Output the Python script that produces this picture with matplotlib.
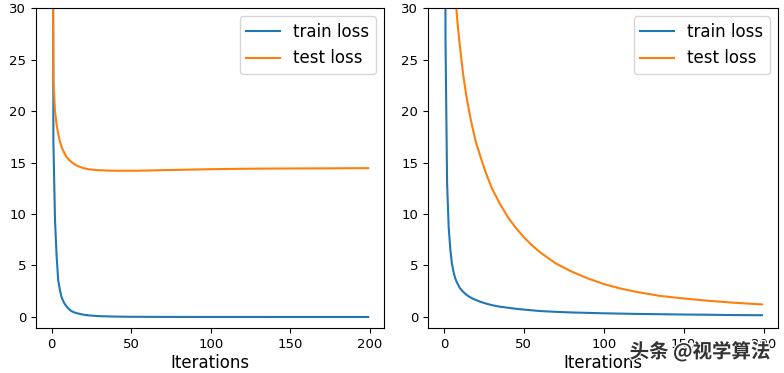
import matplotlib
matplotlib.use("Agg")
import matplotlib.pyplot as plt
import matplotlib.patheffects as pe

# values (sparse iteration grid)
iterations = [0, 1, 2, 3, 4, 5, 6, 7, 8, 9, 10, 12, 14, 16, 18, 20, 23, 26,
              30, 35, 40, 45, 50, 55, 60, 70, 80, 90, 100, 110, 120, 135,
              150, 165, 180, 199]

# left panel: train loss drops to ~0, test loss plateaus ~14.4
left_train = [100, 17, 9.5, 6.0, 3.6, 2.7, 2.0, 1.6, 1.3, 1.08, 0.9, 0.6,
              0.45, 0.36, 0.29, 0.22, 0.16, 0.12, 0.08, 0.06, 0.04, 0.03,
              0.02, 0.018, 0.015, 0.01, 0.008, 0.007, 0.005, 0.004, 0.004,
              0.003, 0.003, 0.002, 0.002, 0.002]
left_test = [60, 23, 20, 18.7, 17.8, 17.1, 16.6, 16.2, 15.9, 15.6, 15.4, 15.1,
             14.85, 14.68, 14.56, 14.45, 14.35, 14.3, 14.25, 14.22, 14.2,
             14.2, 14.2, 14.21, 14.22, 14.26, 14.29, 14.32, 14.35, 14.37,
             14.39, 14.41, 14.42, 14.43, 14.44, 14.45]

# right panel: both keep falling
right_train = [150, 27, 13, 8.7, 6.6, 5.2, 4.4, 3.8, 3.4, 3.1, 2.8, 2.45,
               2.17, 1.95, 1.78, 1.65, 1.47, 1.32, 1.15, 1.0, 0.9, 0.8, 0.72,
               0.65, 0.58, 0.5, 0.44, 0.4, 0.36, 0.33, 0.3, 0.27, 0.24, 0.22,
               0.19, 0.17]
right_test = [200, 110, 80, 62, 50, 42, 36, 32, 29.5, 27.8, 26.3, 23.6, 21.5,
              19.8, 18.3, 17.0, 15.5, 14.1, 12.5, 11.0, 9.7, 8.65, 7.75, 6.98,
              6.3, 5.2, 4.4, 3.75, 3.2, 2.78, 2.45, 2.05, 1.8, 1.58, 1.4, 1.22]

series_labels = ["train loss", "test loss"]
colors = ["#1f77b4", "#ff7f0e"]

fig = plt.figure(figsize=(7.84, 3.73), dpi=100)
ax_left = fig.add_axes([0.0459, 0.1206, 0.4439, 0.8579])
ax_right = fig.add_axes([0.5459, 0.1206, 0.4464, 0.8579])

for ax, train, test in [(ax_left, left_train, left_test),
                        (ax_right, right_train, right_test)]:
    ax.plot(iterations, train, color=colors[0], lw=1.5, label=series_labels[0])
    ax.plot(iterations, test, color=colors[1], lw=1.5, label=series_labels[1])
    ax.set_xlim(-9.95, 208.95)
    ax.set_ylim(-1.07, 30)
    ax.set_xticks([0, 50, 100, 150, 200])
    ax.set_yticks([0, 5, 10, 15, 20, 25, 30])
    ax.tick_params(labelsize=9.5)
    ax.set_xlabel("Iterations", fontsize=12, labelpad=2)
    ax.legend(loc="upper right", fontsize=12)

# watermark in the bottom right corner (overlaps the axis text, as in the source)
fig.text(0.983, 0.057, "头条 @视学算法", ha="right", va="center",
         fontsize=14, color="#333333", fontweight="bold",
         family=["Noto Sans CJK SC", "DejaVu Sans"],
         path_effects=[pe.withStroke(linewidth=2, foreground="white")])

fig.savefig("out.png", dpi=100)
